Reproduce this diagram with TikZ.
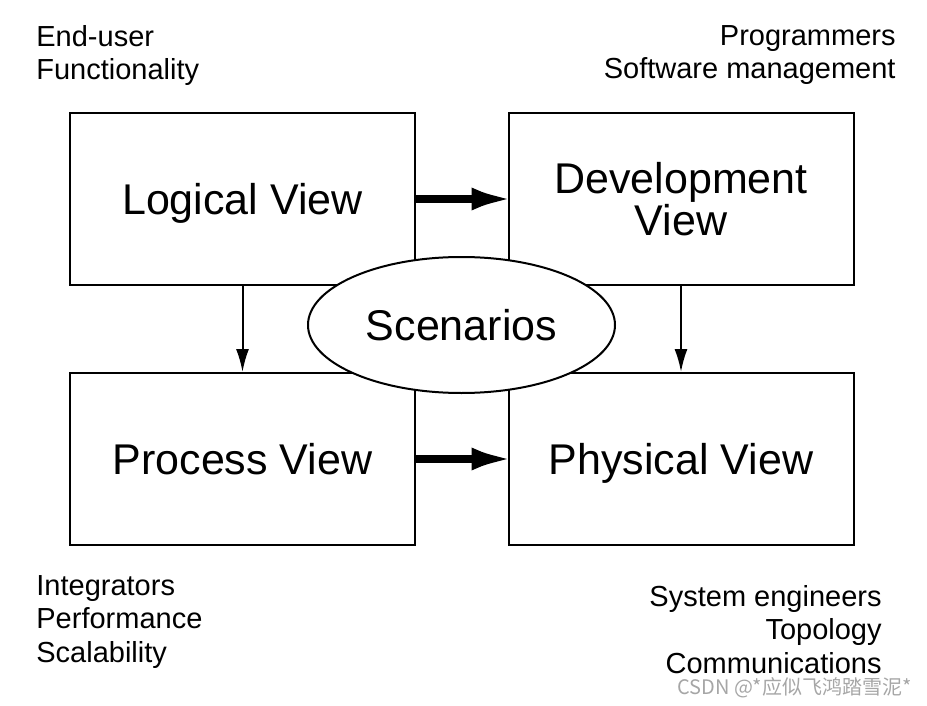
\documentclass[tikz,border=0pt]{standalone}
\usepackage{fontspec}
\setmainfont{Liberation Sans}
\newfontfamily\cjkfont{Noto Sans CJK SC}
\usetikzlibrary{arrows.meta,positioning,shapes.geometric}

\begin{document}
\begin{tikzpicture}[
  x=0.5pt,y=-0.5pt,
  view/.style={draw,line width=1pt,minimum width=172.5pt,minimum height=86pt,align=center,inner sep=2pt,font=\fontsize{21.5}{21}\selectfont},
  oneline/.style={view,text height=15.4pt,text depth=0pt},
  scen/.style={ellipse,draw,line width=1pt,fill=white,minimum width=153.5pt,minimum height=68pt,inner sep=0pt,text height=15.4pt,text depth=0pt,font=\fontsize{21.5}{21}\selectfont},
  note/.style={inner sep=0pt,font=\fontsize{14.5}{16.75}\selectfont},
  bigarr/.style={line width=4pt,shorten >=-3pt,-{Latex[length=21pt,width=11.5pt]}},
  arr/.style={line width=1pt,-{Latex[length=11.5pt,width=6.5pt]}}
]
\useasboundingbox (0,0) rectangle (927,706);

% views
\node[oneline] (logical) at (242.5,199) {Logical View};
\node[view]    (devel)   at (681,199)   {Development\\View};
\node[oneline] (process) at (242.5,459) {Process View};
\node[oneline] (phys)    at (681,459)   {Physical View};

% connectors
\draw[bigarr] (logical) -- (devel);
\draw[bigarr] (process) -- (phys);
\draw[arr] (logical.south) -- (process.north);
\draw[arr] (devel.south) -- (phys.north);

% scenarios on top
\node[scen] (scen) at (461.5,325) {Scenarios};

% stakeholders and concerns
\node[note,anchor=north west,align=left]  (user)  at (36,25)  {End-user\\Functionality};
\node[note,anchor=north east,align=right] (prog)  at (896,25) {Programmers\\Software management};
\node[note,anchor=north west,align=left]  (integ) at (36,575) {Integrators\\Performance\\Scalability};
\node[note,anchor=north east,align=right] (sys)   at (882,585) {System engineers\\Topology\\Communications};

% watermark
\node[anchor=east,inner sep=0pt,text=gray!70,font=\cjkfont\fontsize{10}{12}\selectfont] (mark) at (912,688) {CSDN @*应似飞鸿踏雪泥*};
\end{tikzpicture}
\end{document}
